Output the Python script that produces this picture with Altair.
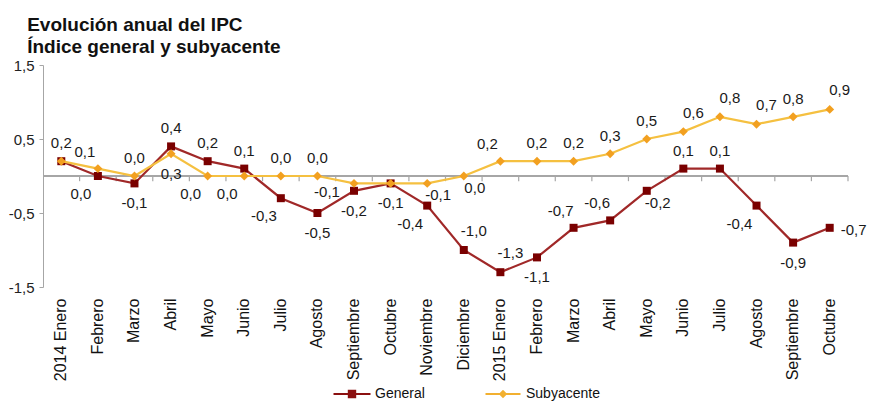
import json
import altair as alt
import pandas as pd

# ---- data ----
months = ["2014 Enero", "Febrero", "Marzo", "Abril", "Mayo", "Junio", "Julio",
          "Agosto", "Septiembre", "Octubre", "Noviembre", "Diciembre",
          "2015 Enero", "Febrero", "Marzo", "Abril", "Mayo", "Junio", "Julio",
          "Agosto", "Septiembre", "Octubre"]
general = [0.2, 0.0, -0.1, 0.4, 0.2, 0.1, -0.3, -0.5, -0.2, -0.1, -0.4, -1.0,
           -1.3, -1.1, -0.7, -0.6, -0.2, 0.1, 0.1, -0.4, -0.9, -0.7]
subyacente = [0.2, 0.1, 0.0, 0.3, 0.0, 0.0, 0.0, 0.0, -0.1, -0.1, -0.1, 0.0,
              0.2, 0.2, 0.2, 0.3, 0.5, 0.6, 0.8, 0.7, 0.8, 0.9]
# label placement codes (style hints for the value labels)
general_pos = ["N", "SW", "S", "N", "N", "N", "SW", "S", "S", "S", "SW", "NE",
               "NE", "S", "NW", "NW", "SE", "N", "N", "SW", "S", "E"]
sub_pos = ["", "NW", "N", "S", "SW", "SW", "N", "N", "W", "", "SE", "SE",
           "NW", "N", "N", "N", "N", "NE", "NE", "NE", "N", "NE"]
series_names = ["General", "Subyacente"]
y_ticks = [-1.5, -0.5, 0.5, 1.5]

# ---- styles ----
FONT = "Liberation Sans"
GEN_LINE = "#A02828"
GEN_MARK = "#7A0000"
SUB_LINE = "#F5C040"
SUB_MARK = "#F2A020"
offsets = {"N": (0, -18), "S": (0, 20), "SW": (-17, 18), "NW": (-13, -17),
           "NE": (10, -19), "SE": (11, 12), "W": (-27, 9), "E": (24, 2)}
FMT = "replace(replace(format(datum.value, '.1f'), '.', ','), '\u2212', '-')"

rows = []
for i in range(len(months)):
    rows.append({"idx": i, "series": "General", "value": general[i], "pos": general_pos[i]})
    rows.append({"idx": i, "series": "Subyacente", "value": subyacente[i], "pos": sub_pos[i]})
df = pd.DataFrame(rows)

label_expr = json.dumps(months, ensure_ascii=False) + "[datum.value]"
xscale = alt.Scale(type="band", paddingInner=0, paddingOuter=0)
yscale = alt.Scale(domain=[-1.5, 1.5], nice=False, zero=False)


def X(band=0.5, axis=False):
    kw = dict(sort=list(range(len(months))), scale=xscale, bandPosition=band)
    if axis:
        kw["axis"] = alt.Axis(title=None, labelAngle=-90, domain=False, ticks=False,
                              labelExpr=label_expr, labelFontSize=16, labelPadding=11,
                              labelColor="#111", labelFont=FONT)
    return alt.X("idx:O", **kw)


Y = alt.Y("value:Q", scale=yscale,
          axis=alt.Axis(title=None, values=y_ticks, grid=False, labelExpr=FMT,
                        domainColor="#A6A6A6", tickColor="#A6A6A6", tickSize=4,
                        labelPadding=5, labelFontSize=15, labelColor="#222",
                        labelFont=FONT))

base = alt.Chart(df)

zero = alt.Chart(pd.DataFrame({"value": [0.0]})).mark_rule(
    color="#A6A6A6", strokeWidth=2).encode(y=alt.Y("value:Q", scale=yscale))

ticks = base.transform_filter("datum.series == 'General'").transform_calculate(
    z0="0", z1="-0.07").mark_rule(color="#A6A6A6", strokeWidth=1.2).encode(
    x=X(1), y=alt.Y("z0:Q", scale=yscale), y2="z1:Q")

layers = [zero, ticks]
for s, lc, mc, shp, sz in [("General", GEN_LINE, GEN_MARK, "square", 64),
                           ("Subyacente", SUB_LINE, SUB_MARK, "diamond", 80)]:
    f = base.transform_filter(f"datum.series == '{s}'")
    layers.append(f.mark_line(color=lc, strokeWidth=2.2).encode(
        x=X(0.5, axis=(s == "General")), y=Y))
    layers.append(f.mark_point(filled=True, shape=shp, size=sz, color=mc, opacity=1).encode(
        x=X(0.5), y=Y))

for s in series_names:
    for code, (dx, dy) in offsets.items():
        layers.append(
            base.transform_filter(f"datum.series == '{s}' && datum.pos == '{code}'")
            .transform_calculate(label=FMT)
            .mark_text(dx=dx, dy=dy, fontSize=15, font=FONT, color="#1a1a1a",
                       align="center", baseline="middle")
            .encode(x=X(0.5), y=Y, text="label:N"))

# legend-only layer (no rows drawn; domain is explicit)
gen_sym = "M-1.85,-0.11H1.85V0.11H-1.85Z M-0.42,-0.42H0.42V0.42H-0.42Z"
sub_sym = "M-1.75,-0.11H1.75V0.11H-1.75Z M0,-0.42L0.42,0L0,0.42L-0.42,0Z"
leg = alt.Legend(orient="none", legendX=299, legendY=319, direction="horizontal",
                 title=None, symbolSize=400, symbolStrokeWidth=0, labelFontSize=14,
                 labelFont=FONT, labelColor="#111", labelOffset=13, columnPadding=60)
legend_layer = base.transform_filter("false").mark_point(filled=True, opacity=1).encode(
    color=alt.Color("series:N", scale=alt.Scale(domain=series_names,
                                                range=["#8B1010", "#F2B030"]), legend=leg),
    shape=alt.Shape("series:N", scale=alt.Scale(domain=series_names,
                                                range=[gen_sym, sub_sym]), legend=leg))
layers.append(legend_layer)

chart = alt.layer(*layers).properties(
    width=805, height=222,
    title=alt.TitleParams(["Evolución anual del IPC", "Índice general y subyacente"],
                          anchor="start", frame="bounds", fontSize=19, fontWeight="bold",
                          font=FONT, lineHeight=22, color="#111", dx=19, offset=1),
    autosize=alt.AutoSizeParams(type="none"),
    padding={"left": 35, "top": 57, "right": 19, "bottom": 115},
).configure_view(stroke=None)

chart.save("out.html", embed_options={"renderer": "svg", "actions": False})
